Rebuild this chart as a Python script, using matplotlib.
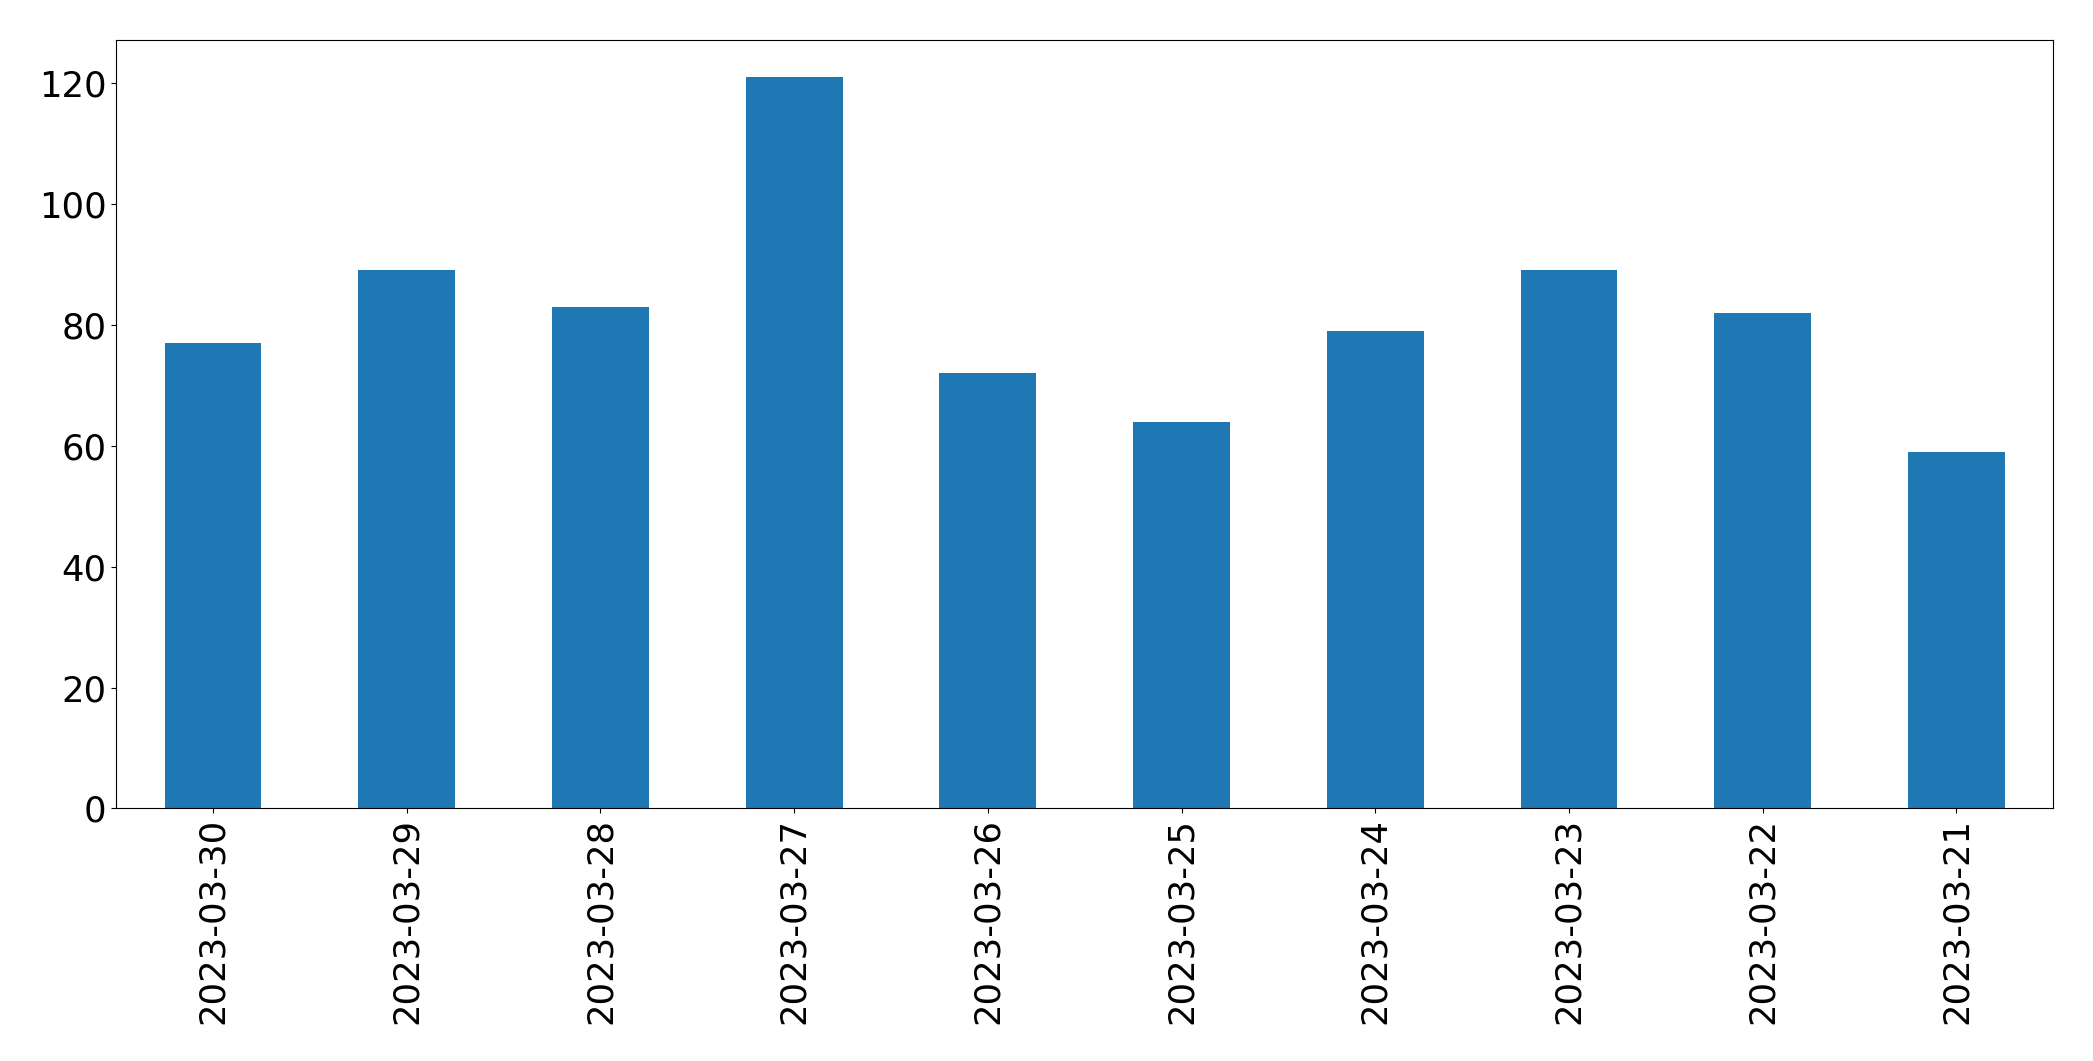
import matplotlib
matplotlib.use('Agg')
import matplotlib.pyplot as plt
import numpy as np

dates = ['2023-03-30', '2023-03-29', '2023-03-28', '2023-03-27', '2023-03-26',
         '2023-03-25', '2023-03-24', '2023-03-23', '2023-03-22', '2023-03-21']
counts = [77, 89, 83, 121, 72, 64, 79, 89, 82, 59]

fig = plt.figure(figsize=(20.93, 10.61), dpi=100)
ax = fig.add_axes([0.0555, 0.238, 0.9255, 0.724])

x = np.arange(len(dates))
ax.bar(x, counts, width=0.5, color='#1f77b4')
ax.set_xlim(-0.5, len(dates) - 0.5)
ax.set_ylim(0, max(counts) * 1.05)
ax.set_xticks(x)
ax.set_xticklabels(dates, rotation=90)
ax.tick_params(labelsize=25.5)

fig.savefig('out.png', dpi=100)
